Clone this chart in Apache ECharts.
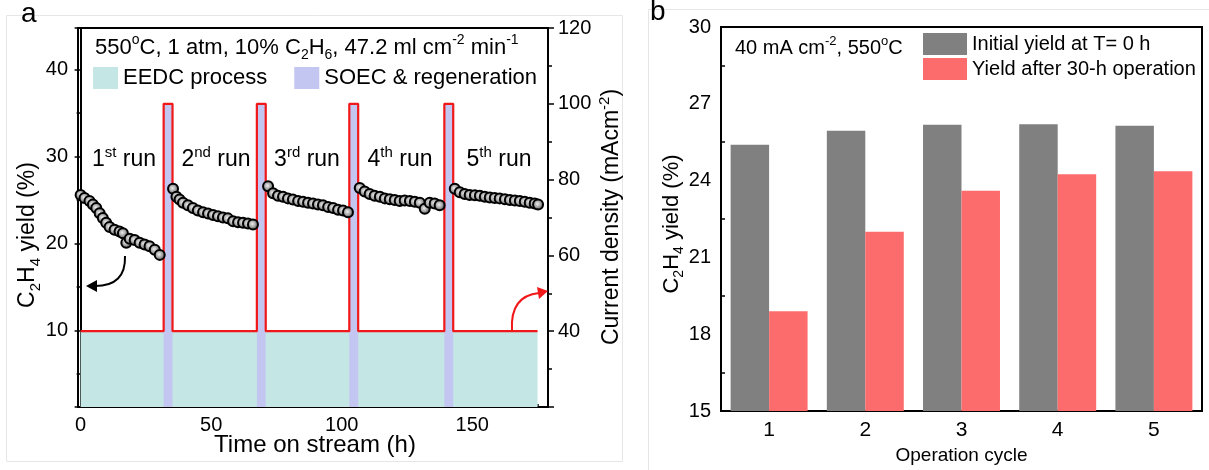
<!DOCTYPE html>
<html><head><meta charset="utf-8">
<script src="https://cdn.jsdelivr.net/npm/echarts@6/dist/echarts.min.js"></script>
<style>html,body{margin:0;padding:0;background:#fff}#c{width:1209px;height:470px}</style>
</head><body><div id="c"></div>
<script>
// ---------- Panel a data ----------
const run1Time  = [0, 1.5, 3.4, 4.7, 6, 7.3, 8.5, 9.8, 11.1, 13, 14.9, 16.2, 17.5, 18.8, 20.7, 22.6, 24.5, 26.4, 28.4, 30.3];
const run1Yield = [25.6, 25.25, 24.9, 24.5, 24.1, 23.5, 22.95, 22.4, 21.9, 21.6, 21.4, 21.2, 20.1, 20.55, 20.4, 20.1, 19.9, 19.7, 19.3, 18.7];
const run2Time  = [35.4, 36.7, 37.9, 39.2, 41.1, 43.0, 44.9, 46.9, 48.8, 50.7, 52.6, 54.5, 56.4, 58.4, 60.3, 62.2, 64.1, 66.0];
const run2Yield = [26.3, 25.4, 25.06, 24.7, 24.4, 24.1, 23.8, 23.6, 23.45, 23.3, 23.14, 23.0, 22.9, 22.56, 22.45, 22.4, 22.3, 22.2];
const run3Time  = [71.8, 73.7, 75.6, 77.5, 79.4, 81.3, 83.3, 85.2, 87.1, 89.0, 90.9, 92.8, 94.8, 96.7, 98.6, 100.5, 102.4];
const run3Yield = [26.6, 25.8, 25.5, 25.4, 25.2, 25.06, 24.9, 24.8, 24.7, 24.6, 24.5, 24.4, 24.2, 24.1, 23.9, 23.8, 23.6];
const run4Time  = [106.9, 108.8, 110.7, 112.6, 114.6, 116.5, 118.4, 120.3, 122.2, 124.1, 126.1, 128.0, 129.9, 131.8, 133.7, 135.6, 137.5];
const run4Yield = [26.4, 26.0, 25.7, 25.5, 25.4, 25.2, 25.1, 25.0, 24.9, 24.95, 24.9, 24.8, 24.7, 24.0, 24.7, 24.6, 24.4];
const run5Time  = [143.3, 145.2, 147.1, 149.0, 151.0, 152.9, 154.8, 156.7, 158.6, 160.5, 162.5, 164.4, 166.3, 168.2, 170.1, 172.0, 173.9, 175.2];
const run5Yield = [26.3, 25.9, 25.7, 25.6, 25.55, 25.5, 25.4, 25.3, 25.25, 25.2, 25.1, 25.0, 24.95, 24.9, 24.8, 24.7, 24.6, 24.5];

const soecStart = [31.8, 67.5, 102.9, 139.3];   // h
const soecEnd   = [35.2, 70.9, 106.3, 142.7];   // h
const eedcCurrent = 40;   // mA cm-2
const soecCurrent = 100;  // mA cm-2
const streamStart = 0;
const streamEnd = 175;

// ---------- Panel b data ----------
const cycles = ['1', '2', '3', '4', '5'];
const initialYield  = [25.4, 25.95, 26.18, 26.2, 26.14];
const yieldAfter30h = [18.9, 22.0, 23.6, 24.25, 24.37];

// ---------- build ----------
const FONT = "'Liberation Sans', Arial, sans-serif";
const runsT = [run1Time, run2Time, run3Time, run4Time, run5Time];
const runsY = [run1Yield, run2Yield, run3Yield, run4Yield, run5Yield];
const yieldPts = [];
runsT.forEach((t, i) => t.forEach((x, j) => yieldPts.push([x, runsY[i][j]])));

const currentPts = [[streamStart, eedcCurrent]];
soecStart.forEach((s, i) => {
  currentPts.push([s, eedcCurrent], [s, soecCurrent], [soecEnd[i], soecCurrent], [soecEnd[i], eedcCurrent]);
});
currentPts.push([streamEnd, eedcCurrent]);

const eedcData = [[streamStart, streamEnd, eedcCurrent]];
const soecData = soecStart.map((s, i) => [s, soecEnd[i], soecCurrent]);

function rectItem(color) {
  return function (params, api) {
    const p1 = api.coord([api.value(0), api.value(2)]);
    const p2 = api.coord([api.value(1), api.value(2)]);
    const bottom = params.coordSys.y + params.coordSys.height;
    return { type: 'rect', shape: { x: p1[0], y: p1[1], width: p2[0] - p1[0], height: bottom - p1[1] }, style: { fill: color } };
  };
}

const CYAN = '#c4e6e4', PURPLE = '#c3c6f1', RED = '#f01818';
const axisLineStyle = { lineStyle: { color: '#000', width: 2 } };
const lblStyle = { color: '#000', fontSize: 20, fontFamily: FONT };

function hideNon(mult, skip) {
  return v => (Math.abs(v / mult - Math.round(v / mult)) < 1e-6 && v !== skip ? String(v) : '');
}

function rich(size) {
  const s = Math.round(size * 0.64);
  return {
    m: { fontSize: size, lineHeight: Math.round(size * 1.3), fontFamily: FONT, color: '#000' },
    sub: { fontSize: s, lineHeight: s, verticalAlign: 'bottom', fontFamily: FONT, color: '#000' },
    sup: { fontSize: s, lineHeight: s, verticalAlign: 'top', fontFamily: FONT, color: '#000' }
  };
}
function rtext(text, x, y, size, align, rotation) {
  return {
    type: 'text', x: x, y: y, z: 100, rotation: rotation || 0,
    style: { text: text, rich: rich(size), fill: '#000', align: align || 'left', verticalAlign: 'middle', font: size + 'px ' + FONT }
  };
}

const chart = echarts.init(document.getElementById('c'), null, { renderer: 'canvas' });
chart.setOption({
  animation: false,
  backgroundColor: '#fff',
  grid: [
    { left: 78, top: 28, width: 470, height: 379, show: true, borderColor: '#000', borderWidth: 2, backgroundColor: 'transparent' },
    { left: 721, top: 27, width: 481, height: 388, show: true, borderColor: '#000', borderWidth: 2, backgroundColor: 'transparent' }
  ],
  legend: [
    {
      left: 93, top: 67, orient: 'horizontal', itemWidth: 25, itemHeight: 22, itemGap: 27, padding: 0,
      icon: 'rect', itemStyle: { borderWidth: 0 },
      textStyle: { fontSize: 22, color: '#000', fontFamily: FONT },
      data: ['EEDC process', 'SOEC & regeneration']
    },
    {
      left: 923, top: 33, orient: 'vertical', itemWidth: 44, itemHeight: 22, itemGap: 3, padding: 0,
      icon: 'rect', itemStyle: { borderWidth: 0 },
      textStyle: { fontSize: 20, color: '#000', fontFamily: FONT },
      data: ['Initial yield at T= 0 h', 'Yield after 30-h operation']
    }
  ],
  xAxis: [
    {
      gridIndex: 0, type: 'value', min: -1, max: 179, splitNumber: 4,
      axisLine: axisLineStyle, splitLine: { show: false },
      axisTick: { inside: true, length: 5, lineStyle: { color: '#000', width: 1.5 } },
      minorTick: { show: true, splitNumber: 2, length: 3, lineStyle: { color: '#000', width: 1.5 } },
      axisLabel: Object.assign({ margin: 8, formatter: hideNon(50) }, lblStyle)
    },
    {
      gridIndex: 1, type: 'category', data: cycles,
      axisLine: axisLineStyle, axisTick: { show: false }, splitLine: { show: false },
      axisLabel: Object.assign({}, lblStyle, { fontSize: 21, margin: 9 }),
      name: 'Operation cycle', nameLocation: 'middle', nameGap: 35,
      nameTextStyle: { fontSize: 19, color: '#000', fontFamily: FONT }
    }
  ],
  yAxis: [
    {
      gridIndex: 0, type: 'value', min: 1.2, max: 44.8, splitNumber: 4,
      axisLine: axisLineStyle, splitLine: { show: false },
      axisTick: { inside: false, length: 6, lineStyle: { color: '#000', width: 1.5 } },
      minorTick: { show: true, splitNumber: 2, length: 4, lineStyle: { color: '#000', width: 1.5 } },
      axisLabel: Object.assign({ margin: 10, formatter: hideNon(10) }, lblStyle)
    },
    {
      gridIndex: 0, type: 'value', position: 'right', min: 20, max: 120, interval: 20,
      axisLine: axisLineStyle, splitLine: { show: false },
      axisTick: { inside: false, length: 6, lineStyle: { color: '#000', width: 1.5 } },
      minorTick: { show: true, splitNumber: 2, length: 4, lineStyle: { color: '#000', width: 1.5 } },
      axisLabel: Object.assign({ margin: 10, formatter: hideNon(20, 20) }, lblStyle)
    },
    {
      gridIndex: 1, type: 'value', min: 15, max: 30, interval: 3,
      axisLine: axisLineStyle, splitLine: { show: false },
      axisTick: { inside: true, length: 6, lineStyle: { color: '#000', width: 1.5 } },
      minorTick: { show: true, splitNumber: 2, length: 4, lineStyle: { color: '#000', width: 1.5 } },
      axisLabel: Object.assign({ margin: 10 }, lblStyle)
    }
  ],
  series: [
    {
      name: 'EEDC process', type: 'custom', xAxisIndex: 0, yAxisIndex: 1, z: 1,
      itemStyle: { color: CYAN }, encode: { x: [0, 1], y: 2 },
      renderItem: rectItem(CYAN), data: eedcData, silent: true
    },
    {
      name: 'SOEC & regeneration', type: 'custom', xAxisIndex: 0, yAxisIndex: 1, z: 2,
      itemStyle: { color: PURPLE }, encode: { x: [0, 1], y: 2 },
      renderItem: rectItem(PURPLE), data: soecData, silent: true
    },
    {
      name: 'Current density', type: 'line', xAxisIndex: 0, yAxisIndex: 1, z: 3,
      data: currentPts, showSymbol: false, symbol: 'none',
      lineStyle: { color: RED, width: 2.2 }, itemStyle: { color: RED }
    },
    {
      name: 'C2H4 yield', type: 'scatter', xAxisIndex: 0, yAxisIndex: 0, z: 4,
      data: yieldPts, symbol: 'circle', symbolSize: 10,
      itemStyle: {
        color: { type: 'radial', x: 0.45, y: 0.45, r: 0.55, colorStops: [{ offset: 0, color: '#eeeeee' }, { offset: 0.55, color: '#9a9a9a' }, { offset: 1, color: '#2a2a2a' }] },
        borderColor: '#000', borderWidth: 2, opacity: 1
      }
    },
    {
      name: 'Initial yield at T= 0 h', type: 'bar', xAxisIndex: 1, yAxisIndex: 2,
      data: initialYield, itemStyle: { color: '#808080' }, barGap: '0%', barCategoryGap: '20%'
    },
    {
      name: 'Yield after 30-h operation', type: 'bar', xAxisIndex: 1, yAxisIndex: 2,
      data: yieldAfter30h, itemStyle: { color: '#fd6c6c' }, barGap: '0%', barCategoryGap: '20%'
    }
  ],
  graphic: [
    // faint panel frames
    { type: 'rect', shape: { x: 6.5, y: 15.5, width: 616, height: 446 }, style: { fill: 'none', stroke: '#e6e6e6', lineWidth: 1 }, z: 0 },
    { type: 'rect', shape: { x: 648.5, y: 9.5, width: 600, height: 500 }, style: { fill: 'none', stroke: '#e6e6e6', lineWidth: 1 }, z: 0 },
    // panel letters
    { type: 'text', x: 21, y: 28, style: { text: 'a', font: '28px ' + FONT, fill: '#000', verticalAlign: 'bottom', align: 'left' }, z: 100 },
    { type: 'text', x: 650, y: 26, style: { text: 'b', font: '28px ' + FONT, fill: '#000', verticalAlign: 'bottom', align: 'left' }, z: 100 },
    // panel a header
    rtext('{m|550}{sup|o}{m|C, 1 atm, 10% C}{sub|2}{m|H}{sub|6}{m|, 47.2 ml cm}{sup|-2}{m| min}{sup|-1}', 95, 48, 22),
    // run labels
    rtext('{m|1}{sup|st}{m| run}', 124, 160, 23, 'center'),
    rtext('{m|2}{sup|nd}{m| run}', 216, 160, 23, 'center'),
    rtext('{m|3}{sup|rd}{m| run}', 307, 160, 23, 'center'),
    rtext('{m|4}{sup|th}{m| run}', 400, 160, 23, 'center'),
    rtext('{m|5}{sup|th}{m| run}', 499, 160, 23, 'center'),
    // axis titles panel a
    rtext('{m|C}{sub|2}{m|H}{sub|4}{m| yield (%)}', 28, 235, 23, 'center', Math.PI / 2),
    rtext('{m|Current density (mAcm}{sup|-2}{m|)}', 612, 217, 23, 'center', Math.PI / 2),
    { type: 'text', x: 315, y: 445, style: { text: 'Time on stream (h)', font: '24px ' + FONT, fill: '#000', align: 'center', verticalAlign: 'middle' }, z: 100 },
    // panel b texts
    rtext('{m|40 mA cm}{sup|-2}{m|, 550}{sup|o}{m|C}', 735, 48, 20),
    rtext('{m|C}{sub|2}{m|H}{sub|4}{m| yield (%)}', 672, 224, 22, 'center', Math.PI / 2),
    // black arrow
    { type: 'bezierCurve', shape: { x1: 125, y1: 256, cpx1: 126, cpy1: 286, x2: 95, y2: 286 }, style: { stroke: '#000', lineWidth: 2, fill: 'none' }, z: 100 },
    { type: 'polygon', shape: { points: [[86, 286], [97, 280], [97, 292]] }, style: { fill: '#000' }, z: 100 },
    // red arrow
    { type: 'bezierCurve', shape: { x1: 512, y1: 330, cpx1: 510, cpy1: 296, x2: 539, y2: 293 }, style: { stroke: RED, lineWidth: 2, fill: 'none' }, z: 100 },
    { type: 'polygon', shape: { points: [[548, 291], [537, 287], [539, 299]] }, style: { fill: RED }, z: 100 }
  ]
});
</script>
</body></html>
